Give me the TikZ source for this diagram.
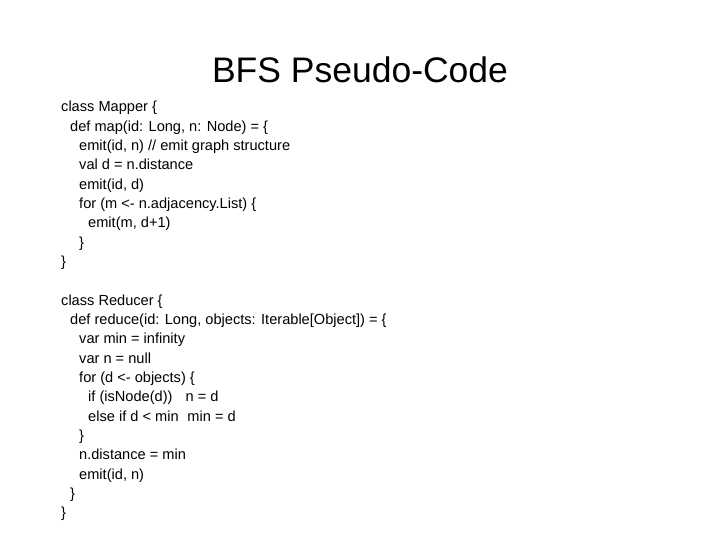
\documentclass[tikz,border=0pt]{standalone}
\usepackage{fontspec}
\setmainfont{Liberation Sans}
\newcommand{\codeline}[4]{%
  \node[code] (#1) at ({61+9*#3}, {540-112-19.33*#2}) {#4};}
\tikzset{
  code/.style={anchor=base west, inner sep=0pt, font=\fontsize{14.6}{17}\selectfont},
  slidetitle/.style={inner sep=0pt, font=\fontsize{35.5}{40}\selectfont}
}
\begin{document}
\begin{tikzpicture}[x=1pt, y=1pt]
        \useasboundingbox (0,0) rectangle (720,540);

        \node[slidetitle] (title) at (360,470) {BFS Pseudo-Code};

        % mapper
        \codeline{m0}{0}{0}{class Mapper \{}
        \codeline{m1}{1}{1}{def map(id: Long, n: Node) = \{}
        \codeline{m2}{2}{2}{emit(id, n) // emit graph structure}
        \codeline{m3}{3}{2}{val d = n.distance}
        \codeline{m4}{4}{2}{emit(id, d)}
        \codeline{m5}{5}{2}{for (m <- n.adjacency.List) \{}
        \codeline{m6}{6}{3}{emit(m, d+1)}
        \codeline{m7}{7}{2}{\}}
        \codeline{m8}{8}{0}{\}}

        % reducer
        \codeline{r0}{10}{0}{class Reducer \{}
        \codeline{r1}{11}{1}{def reduce(id: Long, objects: Iterable[Object]) = \{}
        \codeline{r2}{12}{2}{var min = infinity}
        \codeline{r3}{13}{2}{var n = null}
        \codeline{r4}{14}{2}{for (d <- objects) \{}
        \codeline{r5}{15}{3}{if (isNode(d))\hspace{0.9em}n = d}
        \codeline{r6}{16}{3}{else if d < min\hspace{0.6em}min = d}
        \codeline{r7}{17}{2}{\}}
        \codeline{r8}{18}{2}{n.distance = min}
        \codeline{r9}{19}{2}{emit(id, n)}
        \codeline{r10}{20}{1}{\}}
        \codeline{r11}{21}{0}{\}}
      \end{tikzpicture}
\end{document}
